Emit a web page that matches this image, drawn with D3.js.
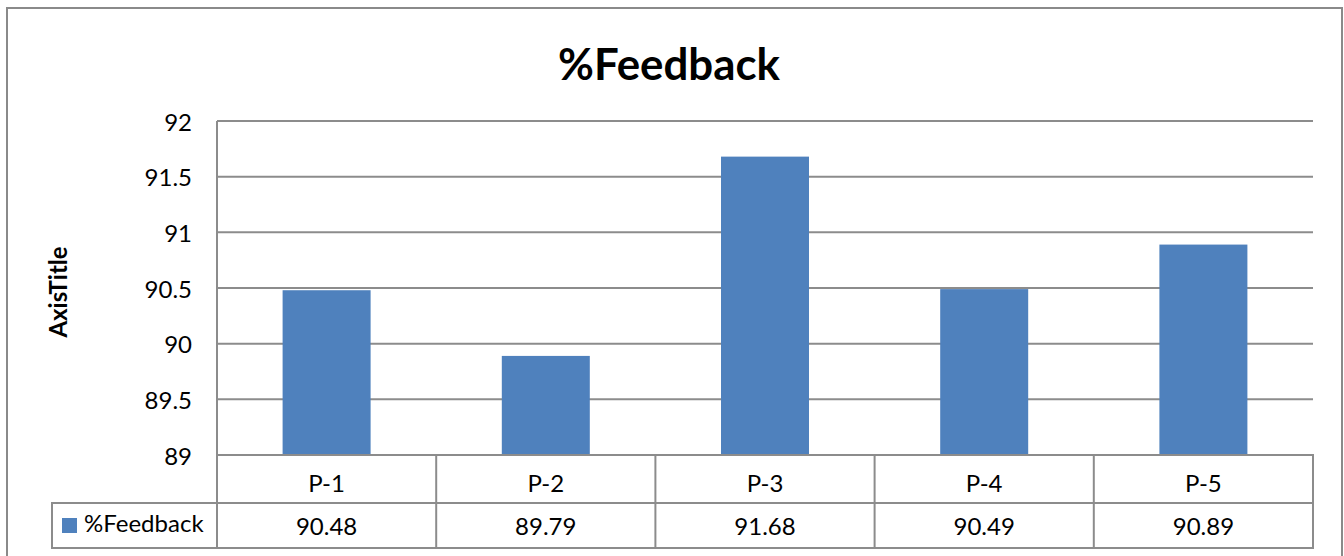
<!DOCTYPE html>
<html>
<head>
<meta charset="utf-8">
<script src="https://cdn.jsdelivr.net/npm/d3@7"></script>
<style>
  html, body { margin: 0; padding: 0; background: #fff; }
  svg { display: block; }
  text { font-family: Lato, "Open Sans", sans-serif; fill: #000; }
</style>
</head>
<body>
<svg id="chart" width="1344" height="556"></svg>
<script>
// ---- data ----
const title = "%Feedback";
const axisTitle = "AxisTitle";
const seriesName = "%Feedback";
const categories = ["P-1", "P-2", "P-3", "P-4", "P-5"];
const values = [90.48, 89.89, 91.68, 90.49, 90.89];          // bar heights as drawn
const tableLabels = ["90.48", "89.79", "91.68", "90.49", "90.89"]; // data table text
const yTicks = [89, 89.5, 90, 90.5, 91, 91.5, 92];

// ---- layout ----
const plot = { left: 217, right: 1313, top: 121, bottom: 455 };
const tableRow1 = 503, tableRow2 = 548, legendLeft = 52;
const gridColor = "#8c8c8c";
const barColor = "#4f81bd";
const fs = 24;

const svg = d3.select("#chart");

// outer border
svg.append("rect")
  .attr("x", 7).attr("y", 8).attr("width", 1335).attr("height", 560)
  .attr("fill", "#fff").attr("stroke", "#8a8a8a").attr("stroke-width", 2);

const x = d3.scaleBand().domain(categories).range([plot.left, plot.right]).paddingInner(0).paddingOuter(0);
const y = d3.scaleLinear().domain([89, 92]).range([plot.bottom, plot.top]);

// gridlines
svg.append("g").selectAll("line").data(yTicks.filter(t => t !== 89)).join("line")
  .attr("x1", plot.left).attr("x2", plot.right)
  .attr("y1", d => y(d)).attr("y2", d => y(d))
  .attr("stroke", gridColor).attr("stroke-width", 2);

// y axis labels via d3 axis
const yAxis = d3.axisLeft(y).tickValues(yTicks).tickSize(0).tickPadding(0).tickFormat(d => String(d));
const gy = svg.append("g").attr("transform", `translate(192,1.5)`).call(yAxis);
gy.select(".domain").remove();
gy.selectAll("text").attr("font-size", fs).attr("font-family", "Lato, 'Open Sans', sans-serif").attr("fill", "#000");

// bars
const barW = 88;
svg.append("g").selectAll("rect").data(values).join("rect")
  .attr("x", (d, i) => x(categories[i]) + x.bandwidth() / 2 - barW / 2)
  .attr("width", barW)
  .attr("y", d => y(d))
  .attr("height", d => y(89) - y(d))
  .attr("fill", barColor);

// table lines
const tl = svg.append("g").attr("stroke", gridColor).attr("stroke-width", 2);
tl.append("line").attr("x1", plot.left).attr("x2", plot.left).attr("y1", plot.top).attr("y2", tableRow2);
tl.append("line").attr("x1", plot.left - 1).attr("x2", plot.right + 1).attr("y1", plot.bottom).attr("y2", plot.bottom);
tl.append("line").attr("x1", legendLeft - 1).attr("x2", plot.right + 1).attr("y1", tableRow1).attr("y2", tableRow1);
tl.append("line").attr("x1", legendLeft - 1).attr("x2", plot.right + 1).attr("y1", tableRow2).attr("y2", tableRow2);
tl.append("line").attr("x1", legendLeft).attr("x2", legendLeft).attr("y1", tableRow1).attr("y2", tableRow2);
tl.selectAll(".sep").data(categories).join("line").attr("class", "sep")
  .attr("x1", d => x(d) + x.bandwidth()).attr("x2", d => x(d) + x.bandwidth())
  .attr("y1", plot.bottom).attr("y2", tableRow2);

// category header
svg.append("g").selectAll("text").data(categories).join("text")
  .attr("x", d => x(d) + x.bandwidth() / 2).attr("y", 492)
  .attr("text-anchor", "middle").attr("font-size", fs).text(d => d);

// values row
svg.append("g").selectAll("text").data(tableLabels).join("text")
  .attr("x", (d, i) => x(categories[i]) + x.bandwidth() / 2).attr("y", 535)
  .attr("text-anchor", "middle").attr("font-size", fs).text(d => d);

// legend key
svg.append("rect").attr("x", 62).attr("y", 518).attr("width", 15).attr("height", 15).attr("fill", barColor);
svg.append("text").attr("x", 84).attr("y", 532).attr("font-size", fs).text(seriesName);

// title
function fit(sel, target) {
  const w = sel.node().getComputedTextLength();
  const f = +sel.attr("font-size");
  if (w > 0) sel.attr("font-size", (f * target / w).toFixed(2));
}
const t = svg.append("text").attr("x", 669).attr("y", 80).attr("text-anchor", "middle")
  .attr("font-size", 42).attr("font-weight", "bold").text(title);
fit(t, 222);

// axis title
const at = svg.append("text")
  .attr("transform", "translate(67,292) rotate(-90)")
  .attr("text-anchor", "middle").attr("font-size", 19).attr("font-weight", "bold").text(axisTitle);
fit(at, 91);
</script>
</body>
</html>
